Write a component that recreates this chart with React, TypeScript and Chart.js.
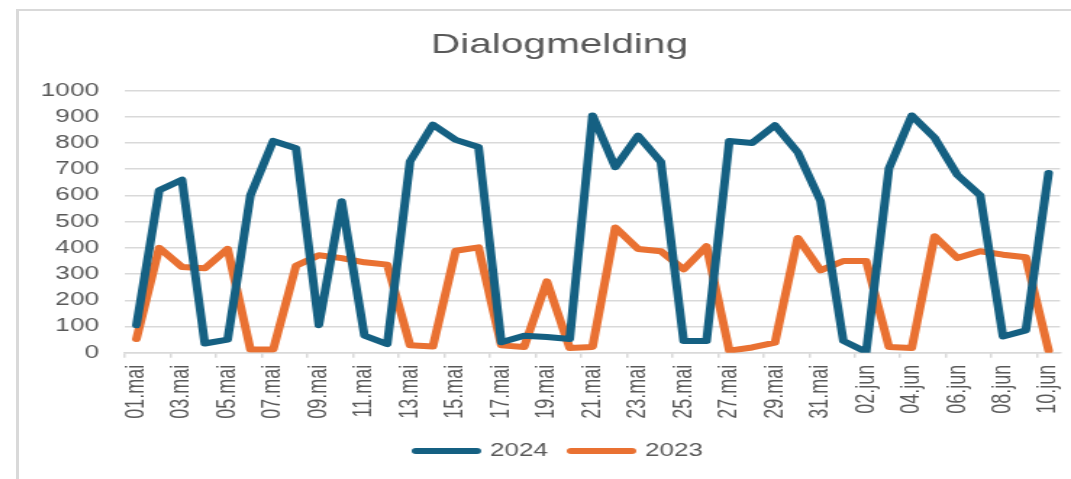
import React, { useEffect, useRef } from "react";
import { Chart, registerables } from "chart.js";

Chart.register(...registerables);

const categories: string[] = [
  "01.mai", "02.mai", "03.mai", "04.mai", "05.mai", "06.mai", "07.mai", "08.mai", "09.mai", "10.mai",
  "11.mai", "12.mai", "13.mai", "14.mai", "15.mai", "16.mai", "17.mai", "18.mai", "19.mai", "20.mai",
  "21.mai", "22.mai", "23.mai", "24.mai", "25.mai", "26.mai", "27.mai", "28.mai", "29.mai", "30.mai",
  "31.mai", "01.jun", "02.jun", "03.jun", "04.jun", "05.jun", "06.jun", "07.jun", "08.jun", "09.jun",
  "10.jun",
];

const series2024: number[] = [
  105, 620, 660, 35, 50, 600, 808, 780, 105, 578,
  65, 33, 730, 870, 812, 785, 40, 65, 60, 52,
  905, 708, 828, 728, 45, 45, 808, 800, 868, 765,
  578, 45, 3, 703, 905, 820, 678, 600, 62, 85,
  686,
];

const series2023: number[] = [
  52, 400, 327, 322, 396, 12, 12, 332, 372, 361,
  345, 336, 28, 24, 389, 402, 28, 22, 272, 18,
  22, 478, 396, 387, 318, 406, 8, 20, 38, 438,
  314, 350, 350, 22, 18, 444, 361, 387, 374, 364,
  8,
];

const yTicks: number[] = [0, 100, 200, 300, 400, 500, 600, 700, 800, 900, 1000];

const BLUE = "#156082";
const ORANGE = "#E97132";
const GRAY_TEXT = "#595959";
const GRID = "#d9d9d9";
const FONT = "'Liberation Sans', Arial, sans-serif";

// shifts the title and legend boxes so that they are centred like the reference
const centerShift = {
  id: "centerShift",
  afterLayout(chart: any) {
    const d = 7.3;
    const boxes = [chart.titleBlock, chart.legend];
    boxes.forEach((b: any) => {
      if (b) {
        b.left += d;
        b.right += d;
      }
    });
  },
};

export default function App() {
  const canvasRef = useRef<HTMLCanvasElement | null>(null);

  useEffect(() => {
    const canvas = canvasRef.current;
    if (!canvas) return;
    const chart = new Chart(canvas, {
      type: "line",
      data: {
        labels: categories,
        datasets: [
          {
            label: "2024",
            data: series2024,
            borderColor: BLUE,
            backgroundColor: BLUE,
            borderWidth: 6,
            borderJoinStyle: "round",
            borderCapStyle: "round",
            pointRadius: 0,
            tension: 0,
          },
          {
            label: "2023",
            data: series2023,
            borderColor: ORANGE,
            backgroundColor: ORANGE,
            borderWidth: 6,
            borderJoinStyle: "round",
            borderCapStyle: "round",
            pointRadius: 0,
            tension: 0,
          },
        ],
      },
      plugins: [centerShift],
      options: {
        animation: false,
        responsive: false,
        devicePixelRatio: 1,
        events: [],
        layout: { padding: { left: 13, right: 7.6, top: 0, bottom: 9 } },
        font: { family: FONT },
        plugins: {
          title: {
            display: true,
            text: "Dialogmelding",
            color: GRAY_TEXT,
            font: { family: FONT, size: 28, weight: "normal" },
            padding: { top: 17, bottom: 29 },
          },
          legend: {
            display: true,
            position: "bottom",
            labels: {
              usePointStyle: true,
              pointStyleWidth: 42,
              boxHeight: 6,
              color: GRAY_TEXT,
              padding: 16,
              font: { family: FONT, size: 18 },
              generateLabels: (c: any) =>
                c.data.datasets.map((ds: any, i: number) => ({
                  text: ds.label,
                  fillStyle: ds.borderColor,
                  strokeStyle: ds.borderColor,
                  lineWidth: 6,
                  lineCap: "round",
                  pointStyle: "line",
                  hidden: false,
                  datasetIndex: i,
                  fontColor: GRAY_TEXT,
                })),
            },
          },
          tooltip: { enabled: false },
        },
        scales: {
          x: {
            type: "category",
            offset: true,
            grid: {
              display: true,
              offset: true,
              drawOnChartArea: false,
              drawTicks: true,
              tickLength: 5,
              lineWidth: 1.5,
              color: (ctx: any) => (ctx.index % 2 === 0 ? GRID : "rgba(0,0,0,0)"),
            },
            border: { display: true, color: GRID, width: 1.5 },
            ticks: {
              autoSkip: false,
              minRotation: 90,
              maxRotation: 90,
              padding: 7,
              color: GRAY_TEXT,
              font: { family: FONT, size: 18 },
              callback: (_v: any, index: number) => (index % 2 === 0 ? categories[index] : ""),
            },
            afterFit: (scale: any) => {
              scale.height = 73.3;
              scale.paddingLeft = 0;
              scale.paddingRight = 0;
            },
          },
          y: {
            min: 0,
            max: 1000,
            afterBuildTicks: (scale: any) => {
              scale.ticks = yTicks.map((v) => ({ value: v }));
            },
            grid: { color: GRID, lineWidth: 1.5, drawTicks: false },
            border: { display: false },
            ticks: {
              padding: 18,
              color: GRAY_TEXT,
              font: { family: FONT, size: 18 },
              callback: (v: any) => String(v),
            },
            afterFit: (scale: any) => {
              scale.width = 60.15;
              scale.paddingTop = 0;
              scale.paddingBottom = 0;
            },
          },
        },
      },
    } as any);
    return () => chart.destroy();
  }, []);

  return (
    <div
      style={{
        position: "absolute",
        left: 16,
        top: 9,
        width: 1055,
        height: 470,
        boxSizing: "border-box",
        borderTop: `2px solid ${GRID}`,
        borderLeft: `3px solid ${GRID}`,
        overflow: "hidden",
        background: "#fff",
      }}
    >
      <canvas
        ref={canvasRef}
        width={726}
        height={468}
        style={{ display: "block", width: "1052px", height: "468px" }}
      />
    </div>
  );
}
